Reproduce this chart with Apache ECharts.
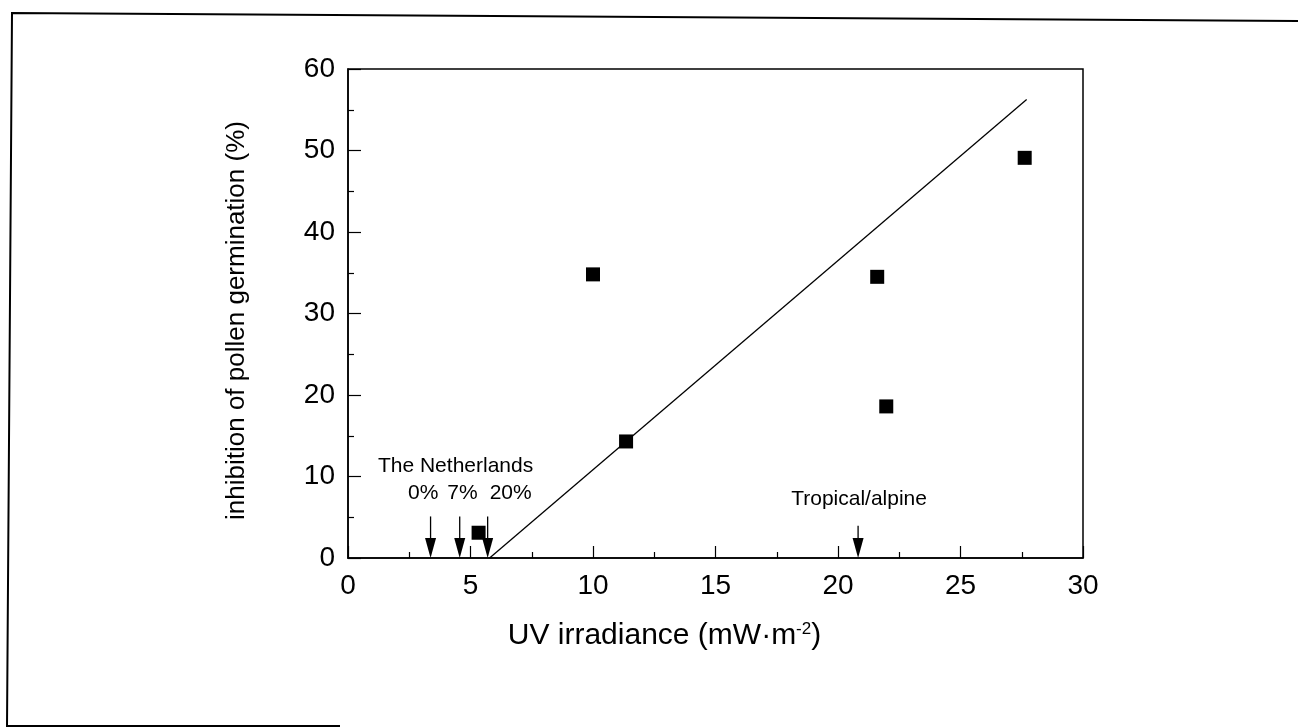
<!DOCTYPE html>
<html>
<head>
<meta charset="utf-8">
<script src="https://cdn.jsdelivr.net/npm/echarts@6/dist/echarts.min.js"></script>
<style>
  html, body { margin: 0; padding: 0; background: #fff; }
  #chart { width: 1298px; height: 728px; }
</style>
</head>
<body>
<div id="chart"></div>
<script>
// Measured inhibition of pollen germination vs UV irradiance
const uvIrradiance = [5.33, 10.0, 11.35, 21.6, 21.97, 27.62];
const inhibition = [3.1, 34.8, 14.3, 34.5, 18.6, 49.1];

// Fitted regression line (end points)
const fitX = [5.78, 27.7];
const fitY = [0, 56.25];

// Irradiance markers (arrow positions and shaft top)
const markerX = [3.37, 4.56, 5.70, 20.82];
const markerTop = [5.1, 5.1, 5.1, 3.96];

// Text annotations placed in data coordinates
const noteText = ['The Netherlands', '0%', '7%', '20%', 'Tropical/alpine'];
const noteX = [4.39, 3.07, 4.67, 6.64, 20.86];
const noteY = [11.3, 8.0, 8.0, 8.0, 7.27];

const xTicks = [0, 5, 10, 15, 20, 25, 30];
const yTicks = [0, 10, 20, 30, 40, 50, 60];

const FONT = '"Liberation Sans", Arial, sans-serif';
const chart = echarts.init(document.getElementById('chart'));

const points = uvIrradiance.map((x, i) => [x, inhibition[i]]);
const fit = fitX.map((x, i) => [x, fitY[i]]);
const markers = markerX.map((x, i) => [x, markerTop[i]]);
const notes = noteX.map((x, i) => [x, noteY[i], i]);

chart.setOption({
  backgroundColor: '#fff',
  animation: false,
  grid: {
    left: 348, top: 69, width: 735, height: 489,
    show: true, borderColor: '#000', borderWidth: 1.5,
    outerBoundsMode: 'none'
  },
  xAxis: {
    type: 'value',
    min: xTicks[0], max: xTicks[xTicks.length - 1], interval: 5,
    name: 'UV irradiance (mW·m{sup|-2})',
    nameLocation: 'middle', nameGap: 63,
    nameTextStyle: {
      fontFamily: FONT, fontSize: 30, color: '#000',
      padding: [0, 102, 0, 0],
      rich: { sup: { fontFamily: FONT, fontSize: 17, color: '#000', verticalAlign: 'top', padding: [0, 0, 12, 0] } }
    },
    axisLine: { lineStyle: { color: '#000', width: 1.5 } },
    axisTick: { inside: true, length: 12, lineStyle: { color: '#000', width: 1.2 } },
    minorTick: { show: true, splitNumber: 2, length: 6, lineStyle: { color: '#000', width: 1.2 } },
    axisLabel: { fontFamily: FONT, fontSize: 28, color: '#000', margin: 14 },
    splitLine: { show: false }
  },
  yAxis: {
    type: 'value',
    min: yTicks[0], max: yTicks[yTicks.length - 1], interval: 10,
    name: 'inhibition of pollen germination (%)',
    nameLocation: 'middle', nameGap: 98,
    nameTextStyle: { fontFamily: FONT, fontSize: 26, color: '#000', padding: [0, 14, 0, 0] },
    axisLine: { lineStyle: { color: '#000', width: 1.5 } },
    axisTick: { inside: true, length: 13, lineStyle: { color: '#000', width: 1.2 } },
    minorTick: { show: true, splitNumber: 2, length: 6, lineStyle: { color: '#000', width: 1.2 } },
    axisLabel: { fontFamily: FONT, fontSize: 28, color: '#000', margin: 13 },
    splitLine: { show: false }
  },
  series: [
    {
      type: 'line', data: fit, showSymbol: false, symbol: 'none',
      lineStyle: { color: '#000', width: 1.3 }, z: 2
    },
    {
      type: 'scatter', data: points, symbol: 'rect', symbolSize: 14,
      itemStyle: { color: '#000', opacity: 1 }, z: 3
    },
    {
      type: 'custom', data: markers, z: 4,
      renderItem: function (params, api) {
        const top = api.coord([api.value(0), api.value(1)]);
        const tip = api.coord([api.value(0), 0]);
        const headLen = 20, headHalf = 5.5;
        return {
          type: 'group',
          children: [
            { type: 'line', shape: { x1: top[0], y1: top[1], x2: tip[0], y2: tip[1] - headLen + 2 },
              style: { stroke: '#000', lineWidth: 1.3 } },
            { type: 'polygon', shape: { points: [[tip[0] - headHalf, tip[1] - headLen], [tip[0] + headHalf, tip[1] - headLen], [tip[0], tip[1]]] },
              style: { fill: '#000' } }
          ]
        };
      }
    },
    {
      type: 'custom', data: notes, z: 5,
      renderItem: function (params, api) {
        const p = api.coord([api.value(0), api.value(1)]);
        return {
          type: 'text', x: p[0], y: p[1],
          style: {
            text: noteText[api.value(2)], align: 'center', verticalAlign: 'middle',
            font: '21px ' + FONT, fill: '#000'
          }
        };
      }
    }
  ],
  graphic: [
    {
      type: 'polyline',
      shape: { points: [[1298, 21], [12, 13], [7, 726], [340, 726]] },
      style: { stroke: '#000', lineWidth: 2, fill: null }
    }
  ]
});
</script>
</body>
</html>
